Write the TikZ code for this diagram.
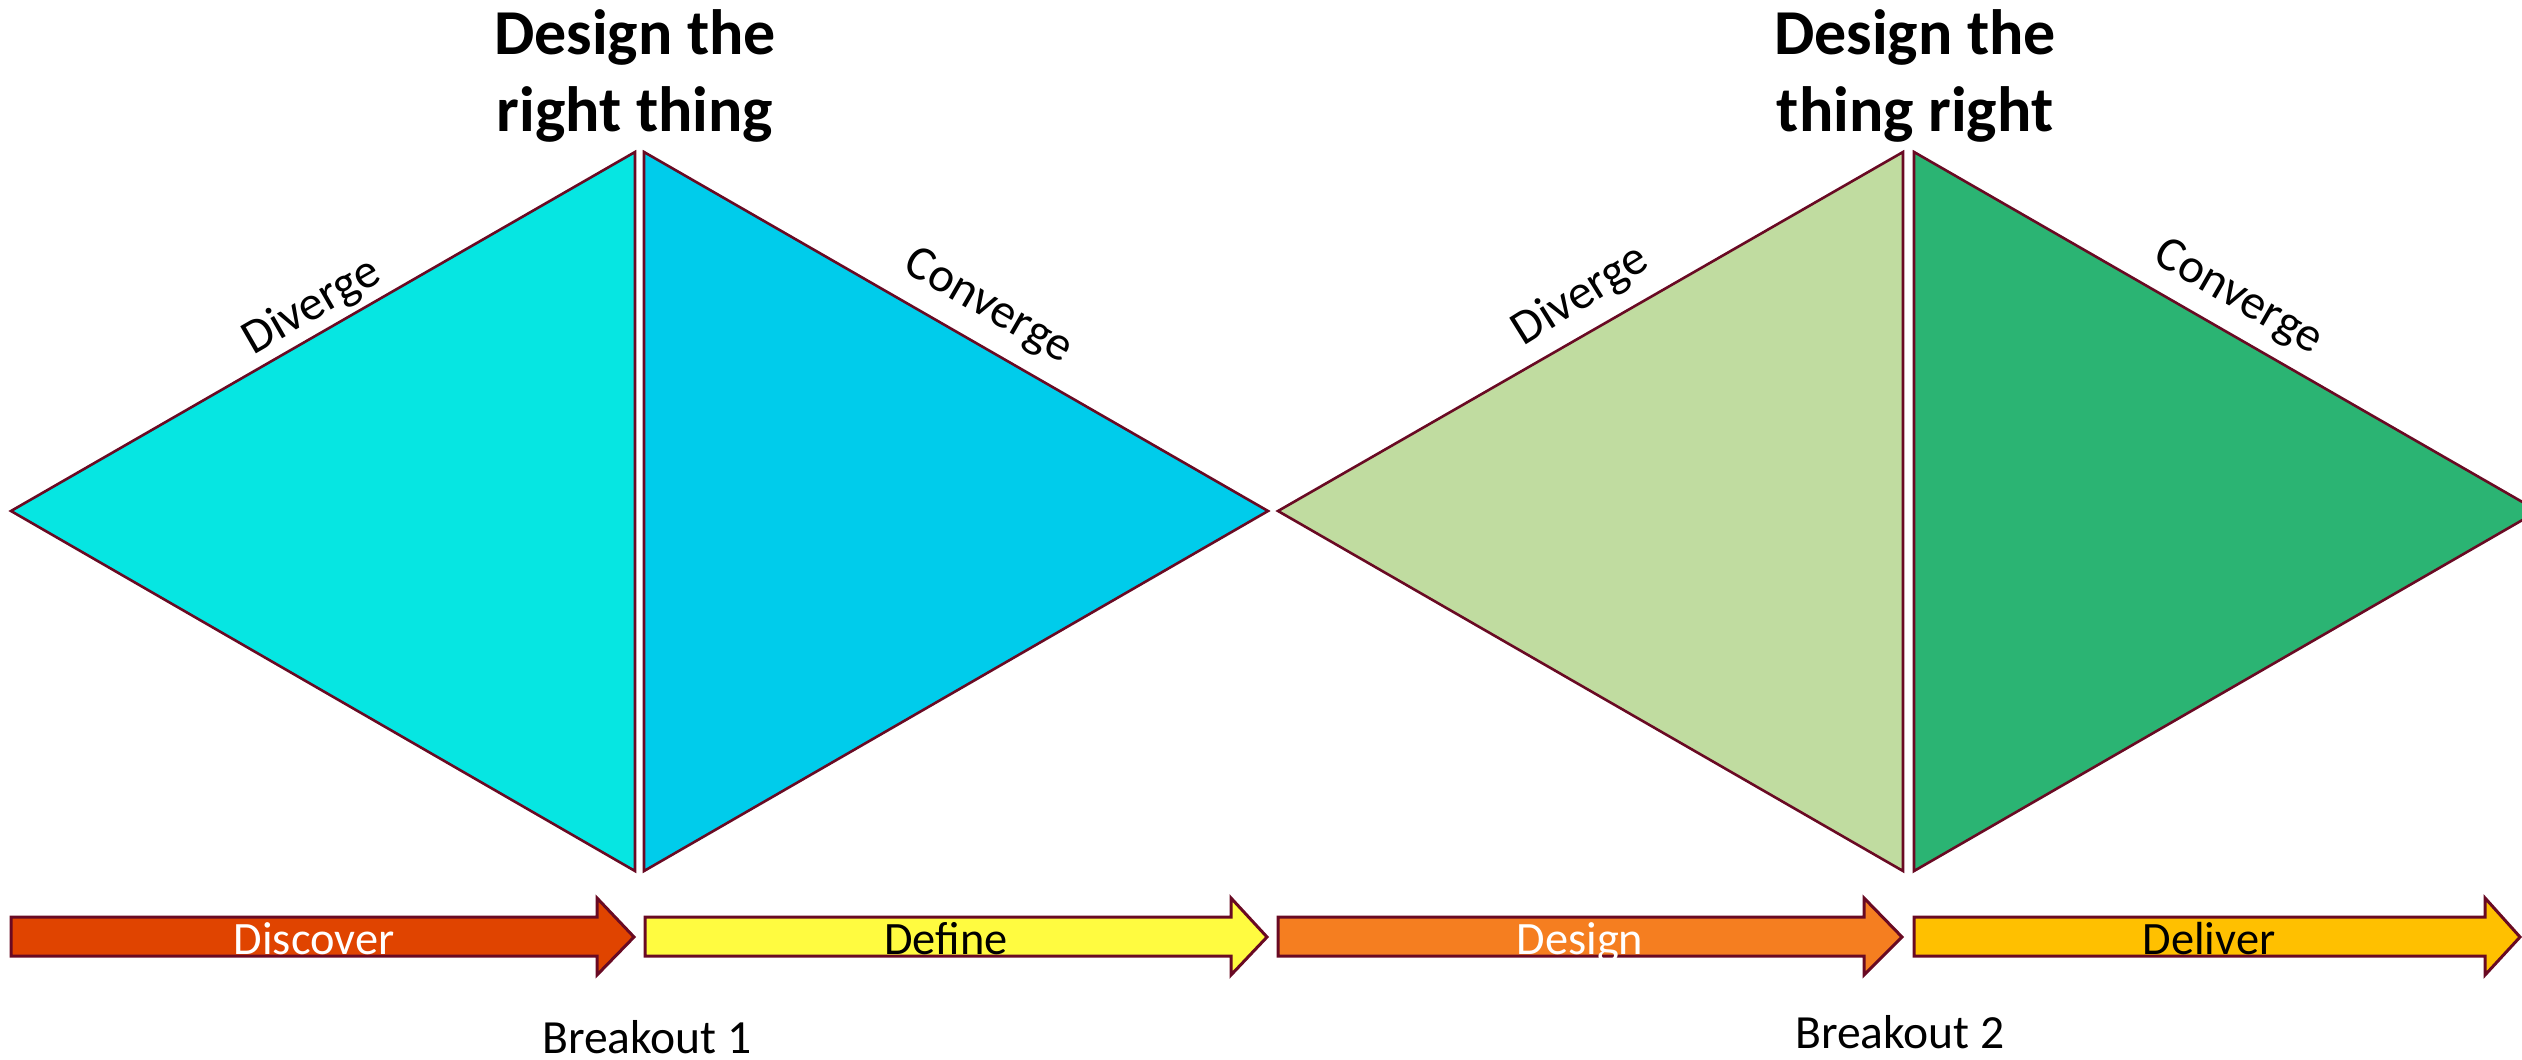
\documentclass[tikz,border=0pt]{standalone}
\usepackage{fontspec}
\setmainfont{Carlito}
\definecolor{edgec}{RGB}{105,10,35}
\definecolor{triA}{RGB}{6,230,226}
\definecolor{triB}{RGB}{0,204,235}
\definecolor{triC}{RGB}{192,220,160}
\definecolor{triD}{RGB}{43,180,115}
\definecolor{arrA}{RGB}{224,68,0}
\definecolor{arrB}{RGB}{255,251,64}
\definecolor{arrC}{RGB}{245,126,32}
\definecolor{arrD}{RGB}{255,192,0}
\tikzset{
  tri/.style={fill=#1, draw=edgec, line width=0.65pt, line join=miter},
  arrowbody/.style={fill=#1, draw=edgec, line width=0.75pt, line join=miter},
  title/.style={anchor=base, inner sep=0pt, font=\fontsize{16}{19}\selectfont\bfseries},
  phase/.style={anchor=base, inner sep=0pt, font=\fontsize{11.6}{14}\selectfont},
  side/.style={anchor=center, inner sep=0pt, font=\fontsize{12.2}{15}\selectfont},
  brk/.style={anchor=base, inner sep=0pt, font=\fontsize{11.9}{14}\selectfont}
}
\begin{document}
\begin{tikzpicture}[x=0.25pt,y=-0.25pt]
\useasboundingbox (0,0) rectangle (2522,1059);
\clip (0,0) rectangle (2522,1059);
% triangles
\path[tri=triA] (11,511) -- (635,152) -- (635,871) -- cycle;
\path[tri=triB] (644,152) -- (1268,511) -- (644,871) -- cycle;
\path[tri=triC] (1278,511) -- (1903,152) -- (1903,871) -- cycle;
\path[tri=triD] (1914,152) -- (2538,511) -- (1914,871) -- cycle;
% titles
\node[title] (t1a) at (635,55) {Design the};
\node[title] (t1b) at (635,132) {right thing};
\node[title] (t2a) at (1915,55) {Design the};
\node[title] (t2b) at (1915,132) {thing right};
% side labels
\node[side, rotate=30] (div1) at (312,307) {Diverge};
\node[side, rotate=-30] (con1) at (988,307) {Converge};
\node[side, rotate=32] (div2) at (1581,296) {Diverge};
\node[side, rotate=-30] (con2) at (2238,298) {Converge};
% arrows
\path[arrowbody=arrA] (11,917) -- (597,917) -- (597,898) -- (634,937) -- (597,975) -- (597,956) -- (11,956) -- cycle;
\path[arrowbody=arrB] (645,917) -- (1231,917) -- (1231,898) -- (1267,937) -- (1231,975) -- (1231,956) -- (645,956) -- cycle;
\path[arrowbody=arrC] (1278,917) -- (1864,917) -- (1864,898) -- (1902,937) -- (1864,975) -- (1864,956) -- (1278,956) -- cycle;
\path[arrowbody=arrD] (1914,917) -- (2485,917) -- (2485,898) -- (2520,937) -- (2485,975) -- (2485,956) -- (1914,956) -- cycle;
\node[phase, text=white] (discover) at (314,954) {Discover};
\node[phase, text=black] (define) at (946,954) {Define};
\node[phase, text=white] (design) at (1580,954) {Design};
\node[phase, text=black] (deliver) at (2209,954) {Deliver};
% breakouts
\node[brk] (b1) at (647,1053) {Breakout 1};
\node[brk] (b2) at (1900,1048) {Breakout 2};
\end{tikzpicture}
\end{document}
